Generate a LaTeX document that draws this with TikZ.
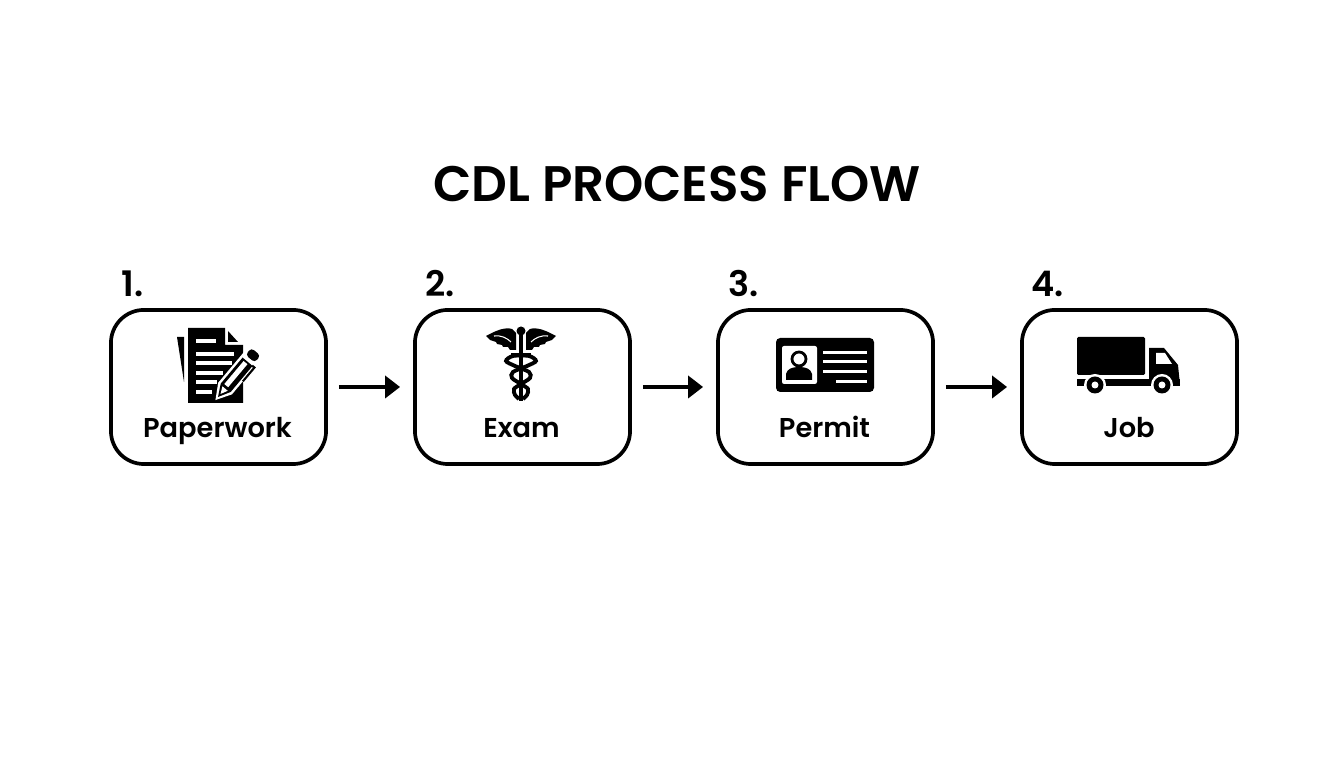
\documentclass[tikz,border=0pt]{standalone}
\usepackage{fontspec}
\setmainfont{Poppins}[BoldFont={Poppins SemiBold}]
\usetikzlibrary{arrows.meta}
\tikzset{
  stepbox/.style={draw=black,line width=1.05pt,rounded corners=0.33cm,minimum width=2.15cm,minimum height=1.54cm,fill=white},
  steplabel/.style={font=\fontsize{7.75}{10}\selectfont\bfseries,anchor=base},
  stepnum/.style={font=\fontsize{10}{12}\selectfont\bfseries,anchor=base west,inner sep=0pt},
  flowarrow/.style={line width=1.4pt,-{Triangle[length=0.15cm,width=0.22cm]},shorten <=0.11cm,shorten >=0.13cm},
  whitebar/.style={draw=white,line width=1pt},
  cardbar/.style={draw=white,line width=0.85pt},
}
\begin{document}
\begin{tikzpicture}[x=0.01cm,y=-0.01cm]
  \useasboundingbox (0,0) rectangle (1344,768);
  \node [font=\fontsize{14.2}{16}\selectfont\bfseries,anchor=base] (title) at (677,202) {CDL PROCESS FLOW};
  % boxes
  \node [stepbox] (paperwork) at (218.5,387) {};
  \node [stepbox] (exam) at (522.5,387) {};
  \node [stepbox] (permit) at (825.5,387) {};
  \node [stepbox] (job) at (1129.5,387) {};
  \draw [flowarrow] (paperwork) -- (exam);
  \draw [flowarrow] (exam) -- (permit);
  \draw [flowarrow] (permit) -- (job);
  \node [stepnum] (num1) at (121,297) {1.};
  \node [stepnum] (num2) at (425,297) {2.};
  \node [stepnum] (num3) at (728,297) {3.};
  \node [stepnum] (num4) at (1031,297) {4.};
  \node [steplabel] (lab1) at (217.5,438) {Paperwork};
  \node [steplabel] (lab2) at (521.5,438) {Exam};
  \node [steplabel] (lab3) at (824.5,438) {Permit};
  \node [steplabel] (lab4) at (1129,438) {Job};
  % paperwork icon
  \fill (177,337) -- (184,337) -- (184,382) -- cycle;
  \fill (188,328) -- (225,328) -- (225,345) -- (243,345) -- (243,403) -- (188,403) -- cycle;
  \fill (228,331) -- (228,342) -- (238,342) -- cycle;
  \draw [whitebar] (196,341) -- (216,341);
  \draw [whitebar] (196,354) -- (234,354);
  \draw [whitebar] (196,363) -- (232,363);
  \draw [whitebar] (196,373) -- (223,373);
  \draw [whitebar] (196,382) -- (217,382);
  \draw [whitebar] (196,392) -- (212,392);
  \begin{scope}[shift={(218,397)},rotate=50]
    \fill [white] (-4,0) -- (11,-9) -- (64,-9) -- (64,9) -- (11,9) -- cycle;
    \fill (0,0) -- (12,-6.5) -- (46,-6.5) -- (46,6.5) -- (12,6.5) -- cycle;
    \fill [white] (4,0) -- (11,-3.5) -- (11,3.5) -- cycle;
    \fill [white] (14,-3.5) rectangle (44,1.5);
    \fill [rounded corners=1pt] (50,-6) rectangle (59,6);
    \draw [line width=0.6pt] (28,9) -- (46,9) -- (46,6);
  \end{scope}
  % caduceus icon
  \foreach \sgn in {1,-1} {
    \begin{scope}[shift={(521,0)},xscale=\sgn]
      \fill (-35,336) .. controls (-24,330) and (-16,327) .. (-9,329) -- (-5,333) -- (-5,350)
        -- (-11,350) -- (-13,347) -- (-18,347) -- (-19,345) -- (-24,344) -- (-25,342) -- (-31,340) -- cycle;
      \draw [white,line width=0.3pt] (-27,336) .. controls (-20,335) and (-14,338) .. (-10,342);
      \draw [smooth,line width=1.1pt] plot coordinates {(10,355) (-8,356) (-15,361) (-6,366) (8,372) (9,378) (0,384) (-7,389) (-6,395) (-2,399)};
    \end{scope}
  }
  \fill (521,331) circle (4.5);
  \draw [line width=1.2pt] (521,331) -- (521,401);
  % permit icon
  \fill [rounded corners=1.2pt] (776,338) rectangle (874,392);
  \fill [white,rounded corners=0.6pt] (782,346) rectangle (817,384);
  \draw [line width=0.8pt] (799,359) circle (7);
  \fill (786,380) -- (786,374) .. controls (787,369) and (792,367) .. (799,367)
    .. controls (806,367) and (811,369) .. (812,374) -- (812,380) -- cycle;
  \draw [cardbar] (823,353) -- (867,353);
  \draw [cardbar] (823,362) -- (867,362);
  \draw [cardbar] (823,372) -- (867,372);
  \draw [cardbar] (836,382) -- (867,382);
  % truck icon
  \fill [rounded corners=0.4pt] (1077,337) rectangle (1145,375);
  \fill (1077,379) rectangle (1180,386);
  \fill (1149,348) -- (1164,348) -- (1178,365) -- (1180,385) -- (1149,385) -- cycle;
  \fill [white] (1156,353) -- (1165,353) -- (1172,364) -- (1156,364) -- cycle;
  \foreach \wx in {1095,1162} {
    \fill [white] (\wx,385) circle (11);
    \fill (\wx,385) circle (8.5);
    \fill [white] (\wx,385) circle (3.5);
  }
\end{tikzpicture}
\end{document}
